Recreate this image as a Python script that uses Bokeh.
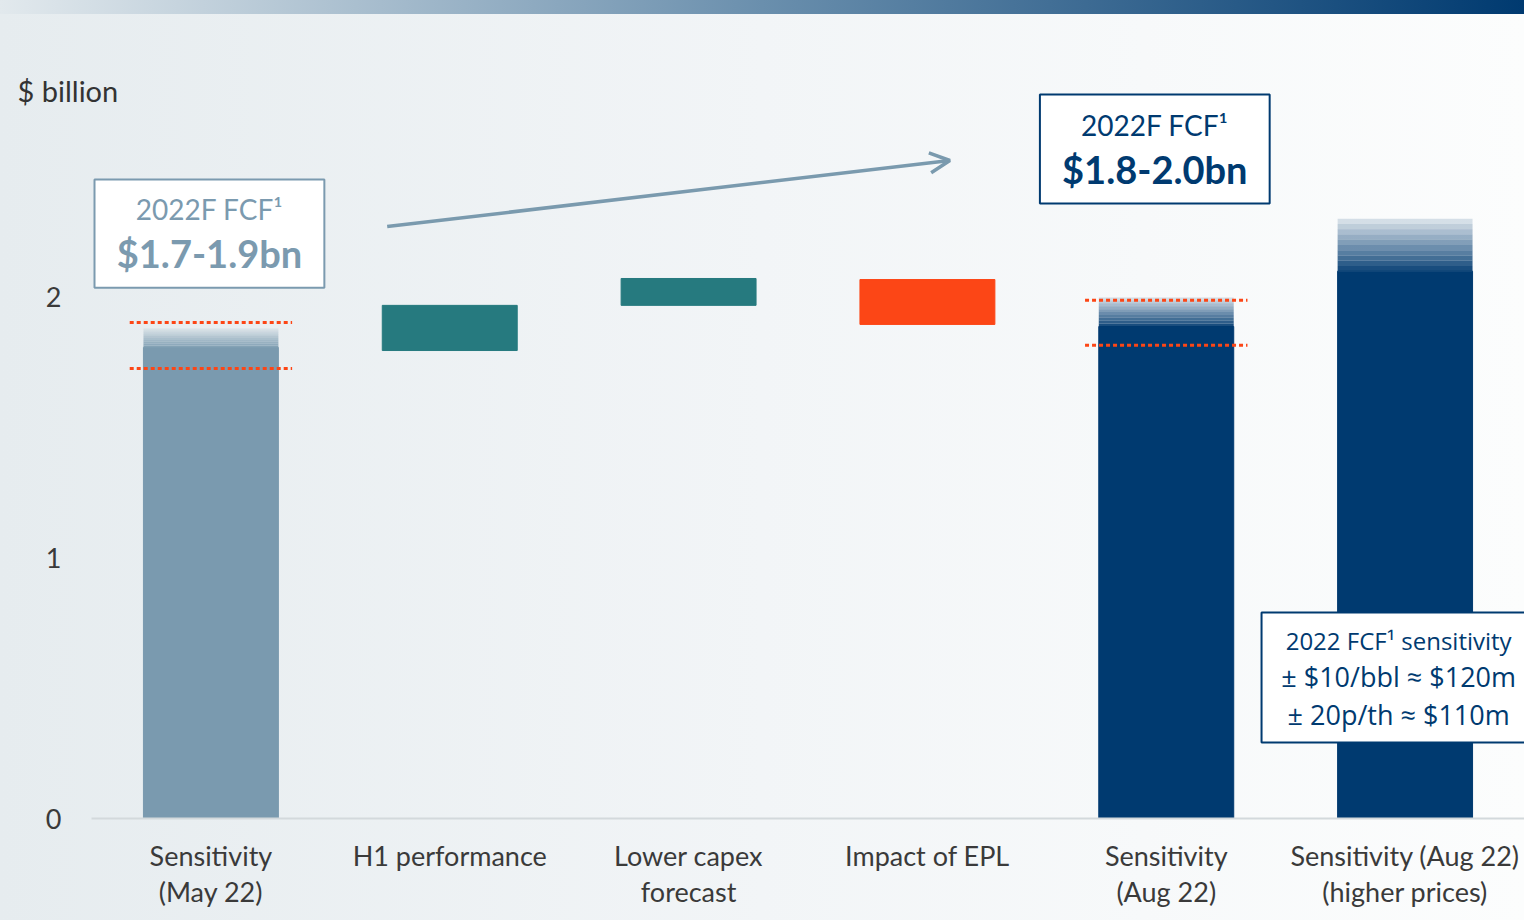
from bokeh.plotting import figure
from bokeh.models import (FactorRange, Range1d, FixedTicker, Label, Arrow, OpenHead, ColumnDataSource)
from bokeh.transform import dodge
from bokeh.core.properties import value
from bokeh.embed import file_html
from bokeh.resources import INLINE

# ---------------- data ----------------
categories = ["Sensitivity\n(May 22)", "H1 performance", "Lower capex\nforecast",
              "Impact of EPL", "Sensitivity\n(Aug 22)", "Sensitivity (Aug 22)\n(higher prices)"]

total_cats = [categories[0], categories[4], categories[5]]
total_solid = [1.805, 1.885, 2.097]
total_top = [1.877, 1.996, 2.298]
total_colors = ["#7a9aaf", "#003a70", "#003a70"]

step_cats = [categories[1], categories[2], categories[3]]
step_start = [1.793, 1.966, 2.065]
step_end = [1.966, 2.069, 1.893]
step_colors = ["#267a7f", "#267a7f", "#fc4616"]

range_cats = [categories[0], categories[0], categories[4], categories[4]]
range_vals = [1.900, 1.724, 1.986, 1.813]

y_ticks = [0, 1, 2]
unit_label = "$ billion"

FONT = "Lato"
grey = "#7b9aaf"
navy = "#003a70"

# ---------------- figure ----------------
TOP = 60
p = figure(x_range=FactorRange(*categories), y_range=Range1d(0, (818 - TOP) / 261),
           frame_width=1433, frame_height=818 - TOP,
           min_border_left=91, min_border_right=0, min_border_top=TOP, min_border_bottom=102,
           output_backend="svg", toolbar_location=None)
p.background_fill_alpha = 0
p.border_fill_alpha = 0
p.outline_line_color = None
p.styles = {"background": "linear-gradient(to right, #e2e9ed, #6a8fad 50%, #003a70) top left / 100% 14px no-repeat, "
                          "linear-gradient(to right, #e6ecef, #f2f5f7 50%, #fcfdfd)"}
p.xgrid.visible = False
p.ygrid.visible = False

# solid part of total bars
p.vbar(x=total_cats, bottom=0, top=total_solid, width=0.565, color=total_colors)

# faded tops of total bars (stepped bands)
n_bands = 10
bx, bb, bt, bc, ba = [], [], [], [], []
for c, s, t, col in zip(total_cats, total_solid, total_top, total_colors):
    h = (t - s) / n_bands
    for k in range(n_bands):
        bx.append(c)
        bb.append(s + k * h)
        bt.append(s + (k + 1) * h)
        bc.append(col)
        ba.append(0.9 - 0.75 * k / (n_bands - 1))
p.vbar(x=bx, bottom=bb, top=bt, width=0.565, fill_color=bc, fill_alpha=ba, line_color=None)

# waterfall steps
p.vbar(x=step_cats, bottom=[min(a, b) for a, b in zip(step_start, step_end)],
       top=[max(a, b) for a, b in zip(step_start, step_end)], width=0.565, color=step_colors)

# dotted range lines
rsrc = ColumnDataSource(dict(cat=range_cats, y=range_vals))
p.segment(x0=dodge("cat", -0.34, range=p.x_range), x1=dodge("cat", 0.34, range=p.x_range),
          y0="y", y1="y", source=rsrc, line_color="#fc4616", line_width=3, line_dash="4 3")

# axes
xa = p.xaxis[0]
xa.axis_line_color = "#d3d9dc"
xa.axis_line_width = 2
xa.major_tick_line_color = None
xa.major_tick_out = 0
xa.major_tick_in = 0
xa.minor_tick_line_color = None
xa.major_label_text_font = FONT
xa.major_label_text_font_size = "27px"
xa.major_label_text_color = "#3a3a3a"
xa.major_label_text_line_height = 1.1
xa.major_label_standoff = 20

ya = p.yaxis[0]
ya.ticker = FixedTicker(ticks=y_ticks)
ya.axis_line_color = None
ya.major_tick_line_color = None
ya.minor_tick_line_color = None
ya.major_tick_out = 0
ya.major_tick_in = 0
ya.major_label_text_font = FONT
ya.major_label_text_font_size = "27px"
ya.major_label_text_color = "#3a3a3a"
ya.major_label_standoff = 30

# unit label, placed in a side panel so it is not clipped to the frame
p.add_layout(Label(x=17, x_units="canvas", y=2.789, text=unit_label, text_align="left", text_baseline="middle",
                   text_font=FONT, text_font_size="29px", text_color="#333333"), "above")

# arrow
p.add_layout(Arrow(x_start=1.238, y_start=2.268, x_end=3.594, y_end=2.521,
                   end=OpenHead(size=20, line_color="#7a9aae", line_width=3.5),
                   line_color="#7a9aae", line_width=3.5))

# annotation boxes (drawn as glyphs so they sit on top of the bars)
p.quad(left=[0.0126, 3.971, 4.899], right=[0.975, 4.933, 6.05],
       bottom=[2.034, 2.356, 0.291], top=[2.448, 2.774, 0.789],
       fill_color="white", line_color=[grey, navy, navy], line_width=2)

p.text(x=[0.494, 4.452], y=[2.337, 2.659], text=["2022F FCF¹", "2022F FCF¹"],
       text_align="center", text_baseline="middle", text_font=value(FONT),
       text_font_size="28px", text_color=[grey, navy])
p.text(x=[0.494, 4.452], y=[2.165, 2.490], text=["$1.7-1.9bn", "$1.8-2.0bn"],
       text_align="center", text_baseline="middle", text_font=value(FONT),
       text_font_size="38px", text_font_style="bold", text_color=[grey, navy])
p.text(x=[5.473], y=[0.682], text=["2022 FCF¹ sensitivity"],
       text_align="center", text_baseline="middle", text_font=value("Open Sans"),
       text_font_size="24px", text_color=navy)
p.text(x=[5.473, 5.473], y=[0.544, 0.398], text=["± $10/bbl ≈ $120m", "± 20p/th ≈ $110m"],
       text_align="center", text_baseline="middle", text_font=value("Open Sans"),
       text_font_size="27px", text_color=navy)

open("out.html", "w").write(file_html(p, INLINE))
